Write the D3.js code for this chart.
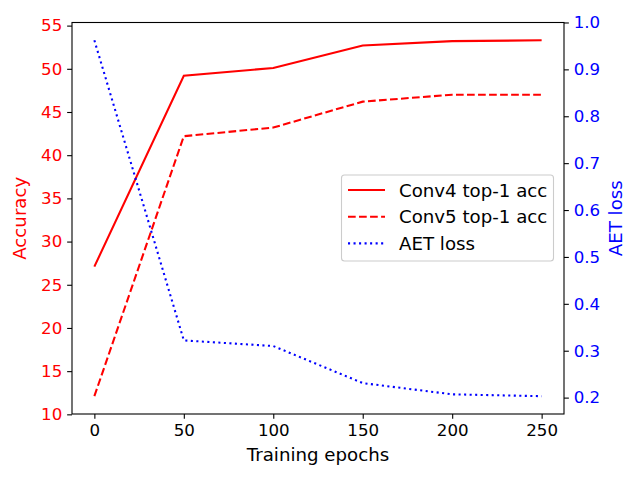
<!DOCTYPE html>
<html><head><meta charset="utf-8">
<script src="https://cdn.jsdelivr.net/npm/d3@7"></script>
<style>body{margin:0;background:#fff}svg{display:block}text{font-family:"DejaVu Sans",sans-serif}</style>
</head><body>
<script>
const epochs = [0, 50, 100, 150, 200, 250];
const conv4 = [27.1, 49.2, 50.1, 52.7, 53.2, 53.3];
const conv5 = [12.1, 42.2, 43.2, 46.2, 47.0, 47.0];
const aetLoss = [0.962, 0.322, 0.31, 0.231, 0.207, 0.203];
const xTicks = [0, 50, 100, 150, 200, 250];
const leftTicks = [10, 15, 20, 25, 30, 35, 40, 45, 50, 55];
const rightTicks = [0.2, 0.3, 0.4, 0.5, 0.6, 0.7, 0.8, 0.9, 1.0];
const seriesNames = ["Conv4 top-1 acc", "Conv5 top-1 acc", "AET loss"];

const W = 640, H = 480;
const m = {l: 72, r: 76, t: 22.5, b: 66};
const fs = 16.67, fl = 18.2;
const svg = d3.select("body").append("svg").attr("width", W).attr("height", H);

function pad(lo, hi){ const d = (hi - lo) * 0.05; return [lo - d, hi + d]; }
const x = d3.scaleLinear().domain(pad(0, 250)).range([m.l, W - m.r]);
const accAll = conv4.concat(conv5);
const yL = d3.scaleLinear().domain(pad(d3.min(accAll), d3.max(accAll))).range([H - m.b, m.t]);
const yR = d3.scaleLinear().domain(pad(d3.min(aetLoss), d3.max(aetLoss))).range([H - m.b, m.t]);

const tickLen = 4.86, tickPad = 4.86;
function styleAxis(g, color){
  g.selectAll(".domain").remove();
  g.selectAll(".tick line").attr("stroke", "#000").attr("stroke-width", 1.1);
  g.selectAll(".tick text").attr("fill", color).style("font-size", fs + "px");
}
svg.append("g").attr("transform", `translate(0,${H - m.b})`)
  .call(d3.axisBottom(x).tickValues(xTicks).tickSize(tickLen).tickPadding(tickPad))
  .call(g => styleAxis(g, "#000"));
svg.append("g").attr("transform", `translate(${m.l},0)`)
  .call(d3.axisLeft(yL).tickValues(leftTicks).tickSize(tickLen).tickPadding(tickPad))
  .call(g => styleAxis(g, "#ff0000"));
svg.append("g").attr("transform", `translate(${W - m.r},0)`)
  .call(d3.axisRight(yR).tickValues(rightTicks).tickSize(tickLen).tickPadding(tickPad).tickFormat(d3.format(".1f")))
  .call(g => styleAxis(g, "#0000ff"));

// lines
const lineL = d3.line().x((d, i) => x(epochs[i])).y(d => yL(d));
const lineR = d3.line().x((d, i) => x(epochs[i])).y(d => yR(d));
const plot = svg.append("g");
plot.append("path").datum(conv4).attr("d", lineL).attr("fill", "none").attr("stroke", "#ff0000").attr("stroke-width", 2.08);
plot.append("path").datum(conv5).attr("d", lineL).attr("fill", "none").attr("stroke", "#ff0000").attr("stroke-width", 2.08).attr("stroke-dasharray", "7.7,3.33");
plot.append("path").datum(aetLoss).attr("d", lineR).attr("fill", "none").attr("stroke", "#0000ff").attr("stroke-width", 2.08).attr("stroke-dasharray", "2.08,3.44");

// frame
svg.append("rect").attr("x", m.l).attr("y", m.t).attr("width", W - m.l - m.r).attr("height", H - m.t - m.b)
  .attr("fill", "none").attr("stroke", "#000").attr("stroke-width", 1.1);

// axis labels
svg.append("text").attr("x", (m.l + W - m.r) / 2).attr("y", 460.7).attr("text-anchor", "middle")
  .style("font-size", fl + "px").attr("fill", "#000").text("Training epochs");
svg.append("text").attr("transform", `translate(25.5,${(m.t + H - m.b) / 2}) rotate(-90)`).attr("text-anchor", "middle")
  .style("font-size", fl + "px").attr("fill", "#ff0000").text("Accuracy");
svg.append("text").attr("transform", `translate(621.7,${(m.t + H - m.b) / 2}) rotate(-90)`).attr("text-anchor", "middle")
  .style("font-size", fl + "px").attr("fill", "#0000ff").text("AET loss");

// legend
const lg = svg.append("g");
const lx = 341.5, ly = 175, lw = 212, lh = 86;
lg.append("rect").attr("x", lx).attr("y", ly).attr("width", lw).attr("height", lh).attr("rx", 3)
  .attr("fill", "#fff").attr("fill-opacity", 0.8).attr("stroke", "#cccccc").attr("stroke-width", 1.1);
const styles = [{c: "#ff0000", d: null}, {c: "#ff0000", d: "7.7,3.33"}, {c: "#0000ff", d: "2.08,3.44"}];
seriesNames.forEach((n, i) => {
  const cy = 190 + i * 26.7;
  lg.append("line").attr("x1", 348).attr("x2", 385).attr("y1", cy).attr("y2", cy)
    .attr("stroke", styles[i].c).attr("stroke-width", 2.08).attr("stroke-dasharray", styles[i].d);
  lg.append("text").attr("x", 399).attr("y", cy).attr("dy", "0.36em").style("font-size", fl + "px").attr("fill", "#000").text(n);
});
</script>
</body></html>
